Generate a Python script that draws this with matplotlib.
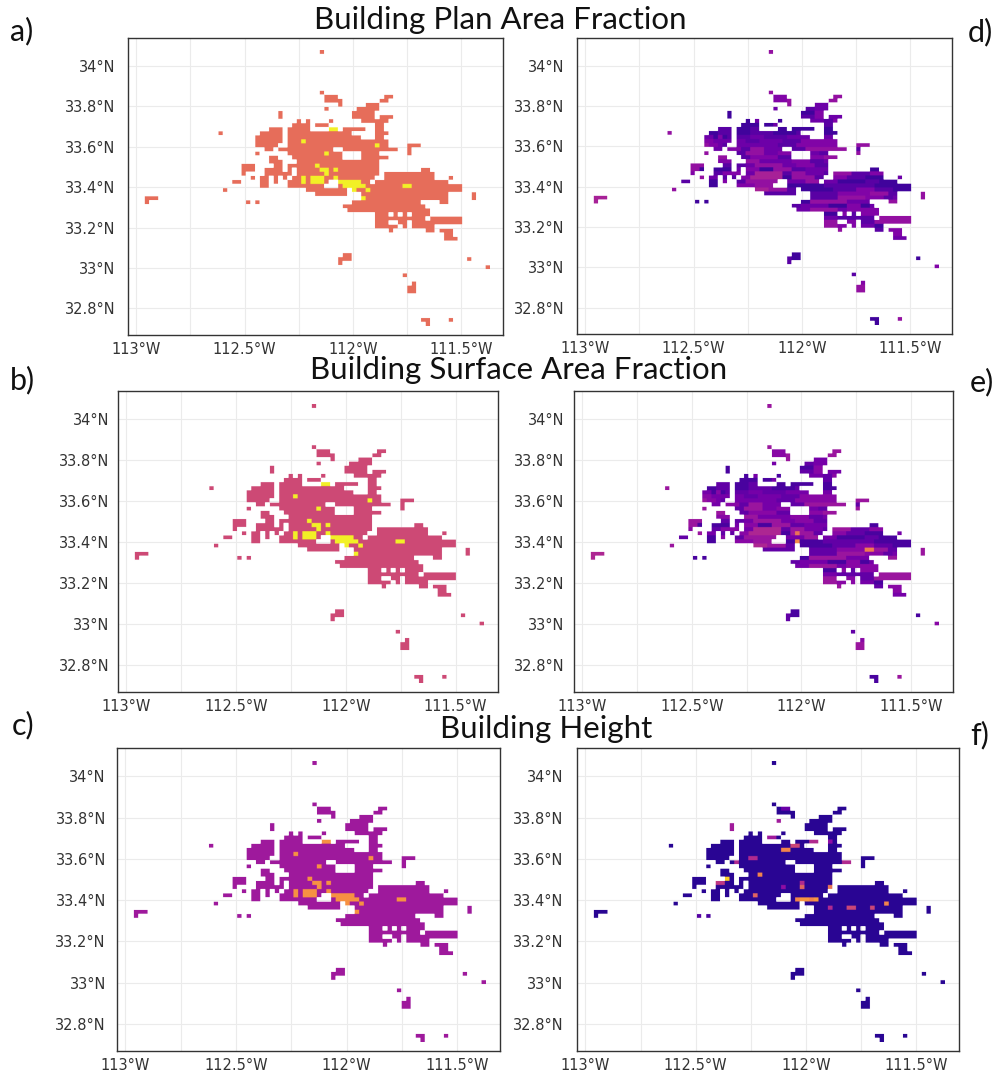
"""Six panel urban canopy maps around Phoenix, drawn on a regular lon/lat grid."""

import matplotlib

matplotlib.use("Agg")
import matplotlib.pyplot as plt
import numpy as np

W, H = 995, 1072

LON_FIRST = -112.613
LAT_FIRST = 34.065
D_LON = 0.0212
D_LAT = 0.02
COL_OFFSET = 17  # isolated cells west of column 0
N_COLS = 59 + COL_OFFSET
N_ROWS = 68
SOFTEN = 6  # the source picture is a resampled raster, edges are slightly soft

# row -> column runs of the urban cells
URBAN_RUNS = {
    0: [(22, 22)],
    10: [(22, 22)],
    11: [(23, 25), (36, 37)],
    12: [(23, 26), (35, 36)],
    13: [(26, 26), (32, 34)],
    14: [(23, 23), (30, 34)],
    15: [(13, 13), (29, 33)],
    16: [(13, 13), (29, 33), (35, 37)],
    17: [(17, 17), (19, 19), (24, 24), (31, 36)],
    18: [(16, 19), (21, 23), (34, 35)],
    19: [(11, 13), (15, 19), (24, 25), (27, 31), (34, 35)],
    20: [(0, 0), (9, 13), (15, 28), (34, 36)],
    21: [(8, 13), (15, 30), (34, 35)],
    22: [(8, 13), (15, 36)],
    23: [(8, 12), (15, 36), (41, 43)],
    24: [(10, 11), (13, 24), (27, 38), (41, 41)],
    25: [(8, 8), (15, 26), (31, 34), (41, 41)],
    26: [(11, 12), (16, 26), (31, 36)],
    27: [(11, 13), (17, 34)],
    28: [(5, 7), (12, 13), (15, 34)],
    29: [(5, 7), (10, 13), (15, 15), (17, 34), (44, 45)],
    30: [(5, 5), (10, 15), (17, 34), (36, 46)],
    31: [(7, 7), (9, 10), (12, 12), (14, 14), (16, 33), (36, 46), (50, 50)],
    32: [(3, 4), (9, 10), (12, 12), (15, 23), (26, 32), (34, 49)],
    33: [(9, 10), (15, 22), (26, 52)],
    34: [(1, 1), (19, 27), (29, 52)],
    35: [(21, 27), (31, 49), (55, 55)],
    36: [(-16, -14), (31, 49), (55, 55)],
    37: [(-16, -16), (6, 6), (8, 8), (29, 43), (48, 49)],
    38: [(27, 44)],
    39: [(28, 45)],
    40: [(34, 36), (38, 38), (40, 40), (42, 45)],
    41: [(34, 44), (46, 52)],
    42: [(34, 36), (39, 40), (42, 52)],
    43: [(34, 38), (40, 40), (42, 46)],
    44: [(37, 37), (45, 46), (48, 50)],
    45: [(49, 50)],
    46: [(49, 51)],
    50: [(27, 28)],
    51: [(26, 28), (54, 54)],
    52: [(26, 26)],
    53: [(58, 58)],
    55: [(40, 40)],
    57: [(42, 42)],
    58: [(41, 42)],
    59: [(41, 42)],
    66: [(44, 45), (50, 50)],
    67: [(45, 45)],
}

# tallest / densest cells in the left column panels
HOT_RUNS = {
    19: [(24, 25)],
    22: [(18, 18)],
    23: [(34, 34)],
    25: [(23, 23)],
    28: [(21, 21)],
    29: [(22, 23), (25, 25)],
    30: [(23, 23)],
    31: [(18, 18), (20, 22), (25, 25)],
    32: [(18, 18), (20, 22), (26, 30)],
    33: [(27, 31), (40, 41)],
    34: [(29, 29), (32, 32)],
    36: [(31, 31)],
}

# (first col, last col, level) of the right column panels
TEXTURE_RUNS = {
    0: [(22, 22, 5)],
    10: [(22, 22, 5)],
    11: [(23, 25, 4), (36, 37, 5)],
    12: [(23, 25, 4), (26, 26, 5), (35, 36, 5)],
    13: [(26, 26, 5)],
    14: [(23, 23, 3), (30, 31, 2)],
    15: [(13, 13, 1), (29, 31, 1), (32, 33, 4)],
    16: [(13, 13, 1), (29, 31, 2), (32, 33, 4)],
    17: [(17, 17, 1), (19, 19, 3), (24, 24, 1), (34, 35, 2), (36, 36, 4)],
    18: [(16, 19, 1), (21, 22, 1), (34, 35, 2)],
    19: [(11, 13, 2), (15, 17, 1), (18, 19, 2), (24, 25, 1), (27, 31, 1), (34, 35, 1)],
    20: [(0, 0, 5), (9, 10, 1), (11, 13, 2), (15, 17, 1), (18, 22, 2), (23, 27, 1), (28, 28, 2), (34, 36, 1)],
    21: [(10, 10, 1), (11, 11, 4), (12, 12, 1), (13, 13, 2), (15, 17, 2), (21, 25, 2)],
    22: [(8, 9, 4), (17, 19, 2), (25, 28, 2), (29, 36, 4)],
    23: [(8, 8, 5), (9, 10, 4), (12, 12, 2), (24, 27, 2), (28, 36, 4), (41, 43, 5)],
    24: [(13, 15, 4), (16, 17, 2), (18, 20, 5), (27, 29, 2), (30, 38, 5), (41, 41, 2)],
    25: [(8, 8, 5), (15, 16, 2), (17, 20, 5), (24, 26, 4), (33, 34, 2), (41, 41, 5)],
    26: [(11, 12, 5), (16, 17, 2), (18, 23, 4), (24, 26, 2), (31, 33, 4), (34, 36, 5)],
    27: [(11, 13, 4), (17, 19, 5), (27, 30, 4), (31, 33, 2)],
    28: [(5, 7, 5), (12, 13, 2), (15, 16, 2), (19, 24, 5), (28, 31, 4), (32, 34, 2)],
    29: [(5, 6, 5), (7, 7, 1), (10, 13, 1), (17, 19, 4), (20, 22, 1), (23, 26, 5), (27, 29, 2), (44, 45, 1)],
    30: [(5, 5, 4), (10, 11, 2), (12, 15, 4), (19, 24, 6), (25, 26, 2), (27, 29, 5), (34, 34, 2), (36, 39, 5), (40, 43, 2), (44, 46, 4)],
    31: [(7, 7, 5), (12, 12, 2), (14, 14, 2), (16, 17, 4), (18, 24, 6), (25, 26, 1), (27, 31, 5), (32, 33, 2), (36, 38, 4), (39, 42, 2), (43, 46, 1)],
    32: [(3, 4, 2), (9, 10, 1), (12, 12, 4), (15, 16, 2), (17, 23, 5), (30, 32, 5), (37, 42, 1), (43, 45, 2), (46, 49, 1)],
    33: [(9, 10, 1), (15, 18, 4), (19, 22, 5), (26, 33, 1), (34, 44, 2), (45, 52, 1)],
    34: [(1, 1, 5), (19, 21, 6), (22, 25, 5), (26, 27, 2), (29, 35, 1), (36, 40, 2), (41, 44, 4), (45, 48, 2), (49, 52, 1)],
    35: [(21, 27, 2), (31, 36, 2), (37, 43, 4), (44, 47, 5), (48, 49, 2), (55, 55, 5)],
    36: [(-16, -14, 6), (31, 36, 2), (37, 42, 5), (43, 46, 4), (47, 48, 2), (55, 55, 5)],
    37: [(-16, -16, 6), (6, 6, 1), (8, 8, 1), (29, 30, 1), (31, 38, 5), (48, 49, 5)],
    38: [(27, 28, 2), (35, 38, 1), (39, 41, 4), (42, 43, 1)],
    39: [(31, 36, 5), (39, 45, 4)],
    40: [(34, 36, 1), (38, 38, 4), (40, 40, 2), (42, 45, 4)],
    41: [(37, 39, 2), (40, 44, 2), (46, 52, 5)],
    42: [(34, 36, 5), (39, 40, 4), (42, 44, 2), (45, 52, 5)],
    43: [(34, 36, 5), (37, 38, 4), (40, 40, 4), (45, 46, 1)],
    44: [(37, 37, 5), (45, 46, 2), (48, 50, 4)],
    45: [(49, 50, 4)],
    50: [(27, 28, 1)],
    51: [(26, 26, 2), (27, 28, 1), (54, 54, 1)],
    52: [(26, 26, 2)],
    53: [(58, 58, 4)],
    55: [(40, 40, 2)],
    57: [(42, 42, 4)],
    58: [(41, 42, 5)],
    59: [(41, 42, 5)],
    66: [(44, 45, 1), (50, 50, 5)],
    67: [(45, 45, 1)],
}
TEXTURE_VALUES = {1: 0.10, 2: 0.16, 3: 0.21, 4: 0.26, 5: 0.31, 6: 0.37}

# (row, col, value) of bright cells
E_BRIGHT = [(31, 28, 0.65), (33, 28, 0.72), (35, 43, 0.68), (35, 44, 0.68)]
F_BRIGHT = [
    (16, 13, 0.35), (15, 13, 0.35), (14, 23, 0.35), (17, 25, 0.4), (18, 21, 0.35),
    (18, 22, 0.35), (20, 26, 0.5), (20, 27, 0.5), (21, 24, 0.7), (21, 25, 0.7),
    (19, 30, 0.4), (19, 31, 0.4), (19, 34, 0.3), (23, 17, 0.4), (23, 18, 0.4),
    (24, 14, 0.4), (27, 19, 0.7), (28, 12, 0.9), (29, 10, 0.45), (29, 11, 0.45),
    (24, 37, 0.4), (24, 38, 0.4), (26, 27, 0.3), (29, 28, 0.4), (30, 28, 0.6),
    (30, 34, 0.65), (33, 27, 0.7), (33, 28, 0.75), (33, 29, 0.75), (33, 30, 0.7),
    (33, 31, 0.75), (32, 18, 0.6), (30, 24, 0.3), (28, 44, 0.35), (28, 45, 0.35),
    (34, 46, 0.7), (35, 43, 0.5), (35, 38, 0.5), (35, 39, 0.5), (35, 34, 0.4),
    (51, 55, 0.5), (37, 6, 0.15), (37, 8, 0.12), (11, 24, 0.2), (11, 25, 0.2),
]

PANEL_LEVELS = {
    "a": (0.63, 0.98),
    "b": (0.51, 0.98),
    "c": (0.34, 0.74),
}
TEXTURE_SHIFT = {"d": 0.0, "e": 0.02}
F_BASE = 0.05

# left, right, top, bottom of each map, and y label pad
BOXES = {
    "a": (128, 503, 38, 335),
    "b": (118, 498, 391, 692),
    "c": (117, 500, 748, 1051),
    "d": (577, 952, 38, 334),
    "e": (574, 953, 391, 692),
    "f": (577, 959, 748, 1051),
}
Y_PADS = {"a": 9, "b": 6, "c": 8, "d": 9, "e": 7, "f": 10}

LON_LIMITS = (-113.038, -111.307)
LAT_LIMITS = (32.669, 34.137)
LON_TICKS = [-113, -112.75, -112.5, -112.25, -112, -111.75, -111.5]
LON_LABELS = ["113°W", "", "112.5°W", "", "112°W", "", "111.5°W"]
LAT_TICKS = [34, 33.8, 33.6, 33.4, 33.2, 33, 32.8]
LAT_LABELS = ["34°N", "33.8°N", "33.6°N", "33.4°N", "33.2°N", "33°N", "32.8°N"]

TITLES = [
    ("Building Plan Area Fraction", 500, 20),
    ("Building Surface Area Fraction", 519, 370),
    ("Building Height", 546, 729),
]
PANEL_TAGS = [
    ("a)", 10, 31), ("b)", 10, 380), ("c)", 12, 725),
    ("d)", 968, 32), ("e)", 970, 382), ("f)", 970, 735),
]
TEXT_FONT = ["Lato", "DejaVu Sans"]


def urban_grid(value):
    grid = np.full((N_ROWS, N_COLS), np.nan)
    for row, spans in URBAN_RUNS.items():
        for first, last in spans:
            grid[row, first + COL_OFFSET : last + COL_OFFSET + 1] = value
    return grid


def set_if_urban(grid, row, col, value):
    col += COL_OFFSET
    if not np.isnan(grid[row, col]):
        grid[row, col] = value


def panel_grid(name):
    if name in PANEL_LEVELS:
        base, hot = PANEL_LEVELS[name]
        grid = urban_grid(base)
        for row, spans in HOT_RUNS.items():
            for first, last in spans:
                for col in range(first, last + 1):
                    set_if_urban(grid, row, col, hot)
        return grid
    if name in TEXTURE_SHIFT:
        shift = TEXTURE_SHIFT[name]
        grid = urban_grid(TEXTURE_VALUES[3] + shift)
        for row, spans in TEXTURE_RUNS.items():
            for first, last, level in spans:
                for col in range(first, last + 1):
                    set_if_urban(grid, row, col, TEXTURE_VALUES[level] + shift)
        if name == "e":
            for row, col, value in E_BRIGHT:
                set_if_urban(grid, row, col, value)
        return grid
    grid = urban_grid(F_BASE)
    for row, col, value in F_BRIGHT:
        set_if_urban(grid, row, col, value)
    return grid


def grid_to_rgba(grid, cmap):
    # empty cells: transparent white, so the grid lines stay visible
    rgba = cmap(np.nan_to_num(grid))
    rgba[np.isnan(grid)] = (1, 1, 1, 0)
    return rgba.repeat(SOFTEN, axis=0).repeat(SOFTEN, axis=1)


def main():
    fig = plt.figure(figsize=(W / 100, H / 100), dpi=100, facecolor="white")

    first_lon = LON_FIRST - COL_OFFSET * D_LON
    extent = (
        first_lon - D_LON / 2,
        first_lon - D_LON / 2 + N_COLS * D_LON,
        LAT_FIRST + D_LAT / 2 - N_ROWS * D_LAT,
        LAT_FIRST + D_LAT / 2,
    )
    cmap = plt.get_cmap("plasma")

    for name, (left, right, top, bottom) in BOXES.items():
        ax = fig.add_axes(
            [left / W, 1 - bottom / H, (right - left) / W, (bottom - top) / H]
        )
        ax.imshow(
            grid_to_rgba(panel_grid(name), cmap),
            extent=extent,
            origin="upper",
            aspect="auto",
            interpolation="bilinear",
            zorder=2,
        )
        ax.set_xlim(*LON_LIMITS)
        ax.set_ylim(*LAT_LIMITS)
        ax.set_xticks(LON_TICKS, LON_LABELS)
        ax.set_yticks(LAT_TICKS, LAT_LABELS)
        ax.tick_params(length=0, labelsize=10.5, colors="#333333", labelfontfamily="DejaVu Sans")
        ax.tick_params(axis="x", pad=5)
        ax.tick_params(axis="y", pad=Y_PADS[name])
        ax.grid(color="#ebebeb", lw=0.8, zorder=1)
        ax.set_axisbelow(True)
        for spine in ax.spines.values():
            spine.set_color("#333333")
            spine.set_linewidth(1.0)

    for text, x, y in TITLES:
        fig.text(
            x / W, 1 - y / H, text, ha="center", va="center",
            fontsize=22.5, family=TEXT_FONT, color="#111111",
        )
    for text, x, y in PANEL_TAGS:
        fig.text(
            x / W, 1 - y / H, text, ha="left", va="center",
            fontsize=22, family=TEXT_FONT, color="#111111",
        )

    fig.savefig("out.png", dpi=100)


if __name__ == "__main__":
    main()
